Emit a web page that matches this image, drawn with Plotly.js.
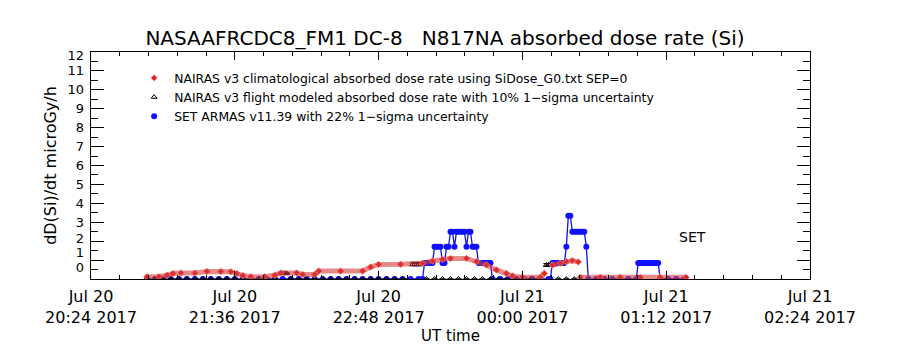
<!DOCTYPE html>
<html>
<head>
<meta charset="utf-8">
<script src="https://cdn.plot.ly/plotly-3.0.1.min.js"></script>
<style>html,body{margin:0;padding:0;background:#fff;}#chart{width:900px;height:350px;}</style>
</head>
<body>
<div id="chart"></div>
<script>
// ---------------- DATA ----------------
// times are minutes after 2017-07-20 20:24 UT
const BASE_TIME = [2017, 6, 20, 20, 24];

// NAIRAS v3 climatological absorbed dose rate (red diamonds)
const climT = [28,34,38,41,45,52,58,65,70,73,76,80,87,92,95,103,106,112,114,125,136,140,144,155,166,171,176,180,188,193,198,203,208,211,216,225,227,229,231,235,238,241,244,244.5,245,255,265,275,285,298];
const climV = [0.12,0.12,0.2,0.29,0.32,0.32,0.4,0.4,0.38,0.29,0.18,0.12,0.12,0.2,0.32,0.32,0.24,0.24,0.42,0.42,0.42,0.63,0.77,0.78,0.83,0.95,1.04,1.09,1.09,0.92,0.74,0.48,0.3,0.16,0.09,0.09,0.3,null,0.74,0.83,0.92,0.97,0.9,null,0.09,0.09,0.09,0.09,0.09,0.09];

// NAIRAS v3 flight modeled absorbed dose rate (black triangles)
const fltT = [28,32,36,40,44,48,52,56,60,64,68,72,76,80,84,88,92,95,96,97,98,100,104,108,112,116,120,124,128,132,136,140,144,148,152,156,161,162,163,164,165,168,172,176,180,184,188,192,196,200,204,208,212,216,220,224,228,229,230,231,234,238,242];
const fltV = [0,0,0,0,0,0,0,0,0,0,0,0,0,0,0,0,0,0.3,0.3,0.3,0.3,0,0,0,0,0,0,0,0,0,0,0,0,0,0,0,0.78,0.78,0.78,0.78,0.78,0,0,0,0,0,0,0,0,0,0,0,0,0,0,0,0.74,0.74,0.74,0.74,0,0,0];

// SET ARMAS v11.39 (blue circles)
const setT = [28,32,36,40,44,48,52,56,60,64,68,72,76,80,84,88,92,96,100,104,108,112,116,120,124,128,132,136,140,144,148,152,156,160,164,
  166,167,168,169,170,171,172,173,174,175,176,177,178,179,180,181,182,183,184,185,186,187,188,189,190,191,192,193,194,195,196,197,198,199,200,201,
  205,209,213,217,221,225,229,
  230,231,232,233,234,235,236,237,238,239,240,241,242,243,244,245,246,247,248,249,
  253,257,261,265,269,273,274,275,276,277,278,279,280,281,282,283,284,285,289,293,297];
const setV = [0,0,0,0,0,0,0,0,0,0,0,0,0,0,0,0,0,0,0,0,0,0,0,0,0,0,0,0,0,0,0,0,0,0,0,
  0,0.85,0.85,0.85,0.85,0.85,1.7,1.7,1.7,1.7,0.85,0.85,1.7,1.7,2.5,2.5,1.7,2.5,2.5,2.5,2.5,2.5,1.7,2.5,2.5,1.7,1.7,1.7,0.85,0.85,0.85,0.85,0.85,0.85,0.85,0,
  0,0,0,0,0,0,0,
  0,0.85,0.85,0.85,0.85,0.85,0.85,0.85,1.7,3.35,3.35,2.5,2.5,2.5,2.5,2.5,2.5,2.5,1.7,0,
  0,0,0,0,0,0,0.85,0.85,0.85,0.85,0.85,0.85,0.85,0.85,0.85,0.85,0.85,0,0,0,0];

// axis labels
const xTickTimes = [0, 72, 144, 216, 288, 360];
const xTickLabels = ['Jul 20<br>20:24 2017','Jul 20<br>21:36 2017','Jul 20<br>22:48 2017','Jul 21<br>00:00 2017','Jul 21<br>01:12 2017','Jul 21<br>02:24 2017'];
const yTickLabels = ['0','1','2','3','4','5','6','7','8','9','10','11','12'];

const titleText = 'NASAAFRCDC8_FM1 DC-8   N817NA absorbed dose rate (Si)';
const legendNames = [
  'NAIRAS v3 climatological absorbed dose rate using SiDose_G0.txt SEP=0',
  'NAIRAS v3 flight modeled absorbed dose rate with 10% 1\u2212sigma uncertainty',
  'SET ARMAS v11.39 with 22% 1\u2212sigma uncertainty'
];

// ---------------- helpers ----------------
function pad(n){ return (n<10?'0':'')+n; }
function toDate(m){
  const d = new Date(Date.UTC(BASE_TIME[0],BASE_TIME[1],BASE_TIME[2],BASE_TIME[3],BASE_TIME[4]) + m*60000);
  return d.getUTCFullYear()+'-'+pad(d.getUTCMonth()+1)+'-'+pad(d.getUTCDate())+' '+pad(d.getUTCHours())+':'+pad(d.getUTCMinutes())+':'+pad(d.getUTCSeconds());
}

const FONT = 'DejaVu Sans';
// label placement on the y axis (IDL nudges the end labels inward)
const yLabelPos = [0.62,1.38,2.15,3,4,5,6,7,8,9,10,11,11.8];

const traces = [
  { // SET connecting line
    x: setT.map(toDate), y: setV, type:'scatter', mode:'lines',
    line:{color:'#1010ff', width:1.3}, showlegend:false, hoverinfo:'skip'
  },
  { // SET points
    x: setT.map(toDate), y: setV, type:'scatter', mode:'markers', name: legendNames[2],
    marker:{symbol:'circle', size:6, color:'#1010ff'}, legendrank:3
  },
  { // flight modeled
    x: fltT.map(toDate), y: fltV, type:'scatter', mode:'markers', name: legendNames[1],
    marker:{symbol:'triangle-up-open', size:5, color:'#000000', line:{width:1, color:'#000'}},
    error_y:{type:'percent', value:10, color:'#000', thickness:1, width:3},
    legendrank:2
  },
  { // climatological band (drawn against the labelled overlay axis, same 0-12 scale)
    x: climT.map(toDate), y: climV, type:'scatter', mode:'lines', yaxis:'y2',
    line:{color:'rgba(215,60,60,0.6)', width:5}, showlegend:false, hoverinfo:'skip', connectgaps:false
  },
  { // climatological points
    x: climT.map(toDate), y: climV, type:'scatter', mode:'markers', name: legendNames[0],
    marker:{symbol:'diamond', size:5, color:'#e41a1c', line:{width:1, color:'rgba(240,150,150,1)'}},
    legendrank:1
  }
];

const axisCommon = {
  showline:true, linecolor:'#000', linewidth:1, mirror:'ticks',
  ticks:'inside', tickcolor:'#000', showgrid:false, zeroline:false
};

const layout = {
  width:900, height:350,
  margin:{l:91, r:90, t:52, b:71, pad:0},
  paper_bgcolor:'#fff', plot_bgcolor:'#fff',
  font:{family:FONT, color:'#000'},
  title:{text:titleText, x:(445-91)/719, xref:'paper', xanchor:'center', y:1-38/350, yref:'container', yanchor:'middle',
         font:{family:FONT, size:20, color:'#000'}},
  showlegend:true,
  legend:{x:0.06, y:0.95, xanchor:'left', yanchor:'top', bgcolor:'rgba(0,0,0,0)',
          font:{family:FONT, size:12.4, color:'#000'}, itemwidth:30, tracegroupgap:0, traceorder:'normal'},
  xaxis: Object.assign({}, axisCommon, {
    type:'date',
    range:[toDate(0), toDate(360)],
    tickmode:'array', tickvals: xTickTimes.map(toDate), ticktext: xTickLabels,
    ticklen:8, tickfont:{family:FONT, size:16, color:'#000'}, ticklabelstandoff:3,
    minor:{tickmode:'linear', tick0: toDate(0), dtick: 14.4*60000, ticklen:4, tickcolor:'#000', ticks:'inside', showgrid:false},
    title:{text:'UT time', font:{family:FONT, size:15, color:'#000'}, standoff:3}
  }),
  yaxis: Object.assign({}, axisCommon, {
    range:[0,12], tickmode:'linear', tick0:0, dtick:1, ticklen:13,
    showticklabels:false,
    minor:{tickmode:'linear', tick0:0.5, dtick:1, ticklen:7, tickcolor:'#000', ticks:'inside', showgrid:false},
    title:{text:'dD(Si)/dt microGy/h', font:{family:FONT, size:16, color:'#000'}, standoff:29}
  }),
  yaxis2:{
    overlaying:'y', side:'left', range:[0,12], tickmode:'array', tickvals:yLabelPos, ticktext:yTickLabels,
    ticks:'', showline:false, showgrid:false, zeroline:false, ticklabelstandoff:6,
    tickfont:{family:FONT, size:13, color:'#000'}
  },
  annotations:[
    {text:'SET', xref:'paper', yref:'paper', x:(692-91)/719, y:(279-237)/227, xanchor:'center', yanchor:'middle',
     showarrow:false, font:{family:FONT, size:14, color:'#000'}}
  ]
};

Plotly.newPlot('chart', traces, layout, {staticPlot:true, displayModeBar:false});
</script>
</body>
</html>
